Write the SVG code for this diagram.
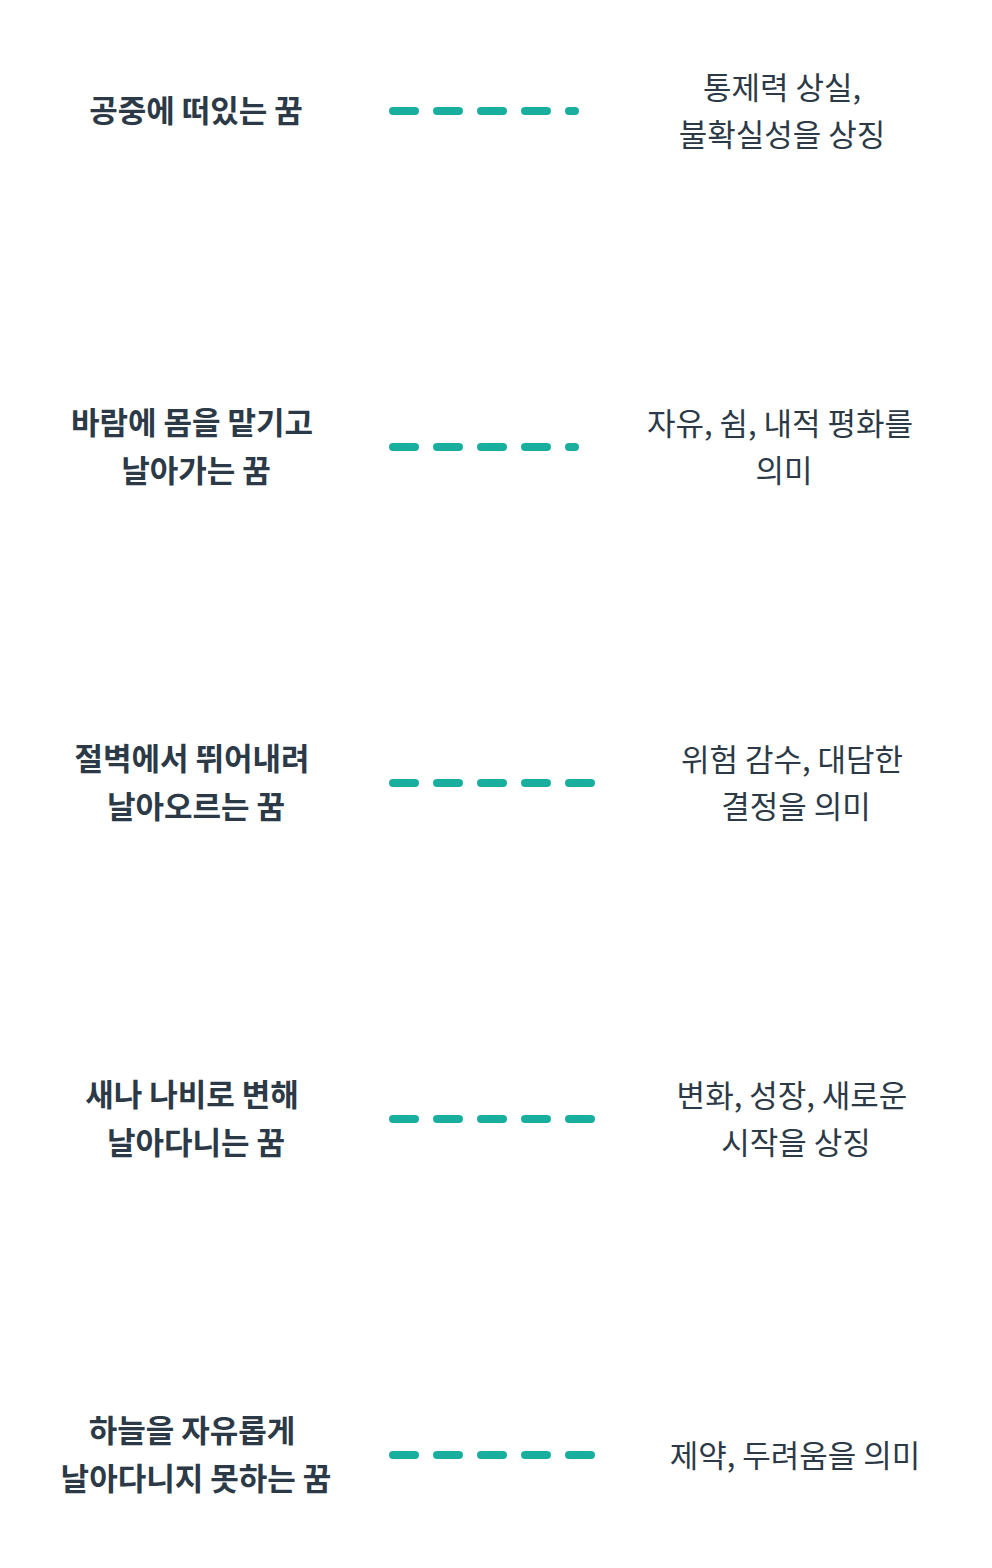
<svg xmlns="http://www.w3.org/2000/svg" width="992" height="1568" viewBox="0 0 992 1568">
<style>
.l{font-family:"Noto Sans CJK KR","Noto Sans",sans-serif;font-weight:700;font-size:31px;fill:#2c3a47;text-anchor:middle}
.r{font-family:"Noto Sans CJK KR","Noto Sans",sans-serif;font-weight:400;font-size:31px;fill:#2c3a47;text-anchor:middle}
.c{stroke:#1aae9f;stroke-width:8;stroke-linecap:round;stroke-dasharray:22 22;fill:none}
</style>
<rect width="992" height="1568" fill="#fff"/>
<g id="connectors">
<path class="c" d="M393 111H575"/>
<path class="c" d="M393 447H575"/>
<path class="c" d="M393 783H592"/>
<path class="c" d="M393 1119H592"/>
<path class="c" d="M393 1455H592"/>
</g>
<g id="n1"><text class="l" x="196" y="122">공중에 떠있는 꿈</text></g>
<g id="n1r"><text class="r" x="782" y="99">통제력 상실,</text><text class="r" x="782" y="146">불확실성을 상징</text></g>
<g id="n2"><text class="l" x="192" y="434">바람에 몸을 맡기고</text><text class="l" x="196" y="482">날아가는 꿈</text></g>
<g id="n2r"><text class="r" x="780" y="435">자유, 쉼, 내적 평화를</text><text class="r" x="784" y="482">의미</text></g>
<g id="n3"><text class="l" x="192" y="770">절벽에서 뛰어내려</text><text class="l" x="196" y="818">날아오르는 꿈</text></g>
<g id="n3r"><text class="r" x="792" y="771">위험 감수, 대담한</text><text class="r" x="796" y="818">결정을 의미</text></g>
<g id="n4"><text class="l" x="192" y="1106">새나 나비로 변해</text><text class="l" x="196" y="1154">날아다니는 꿈</text></g>
<g id="n4r"><text class="r" x="792" y="1107">변화, 성장, 새로운</text><text class="r" x="796" y="1154">시작을 상징</text></g>
<g id="n5"><text class="l" x="192" y="1442">하늘을 자유롭게</text><text class="l" x="196" y="1490">날아다니지 못하는 꿈</text></g>
<g id="n5r"><text class="r" x="795" y="1467">제약, 두려움을 의미</text></g>
</svg>
